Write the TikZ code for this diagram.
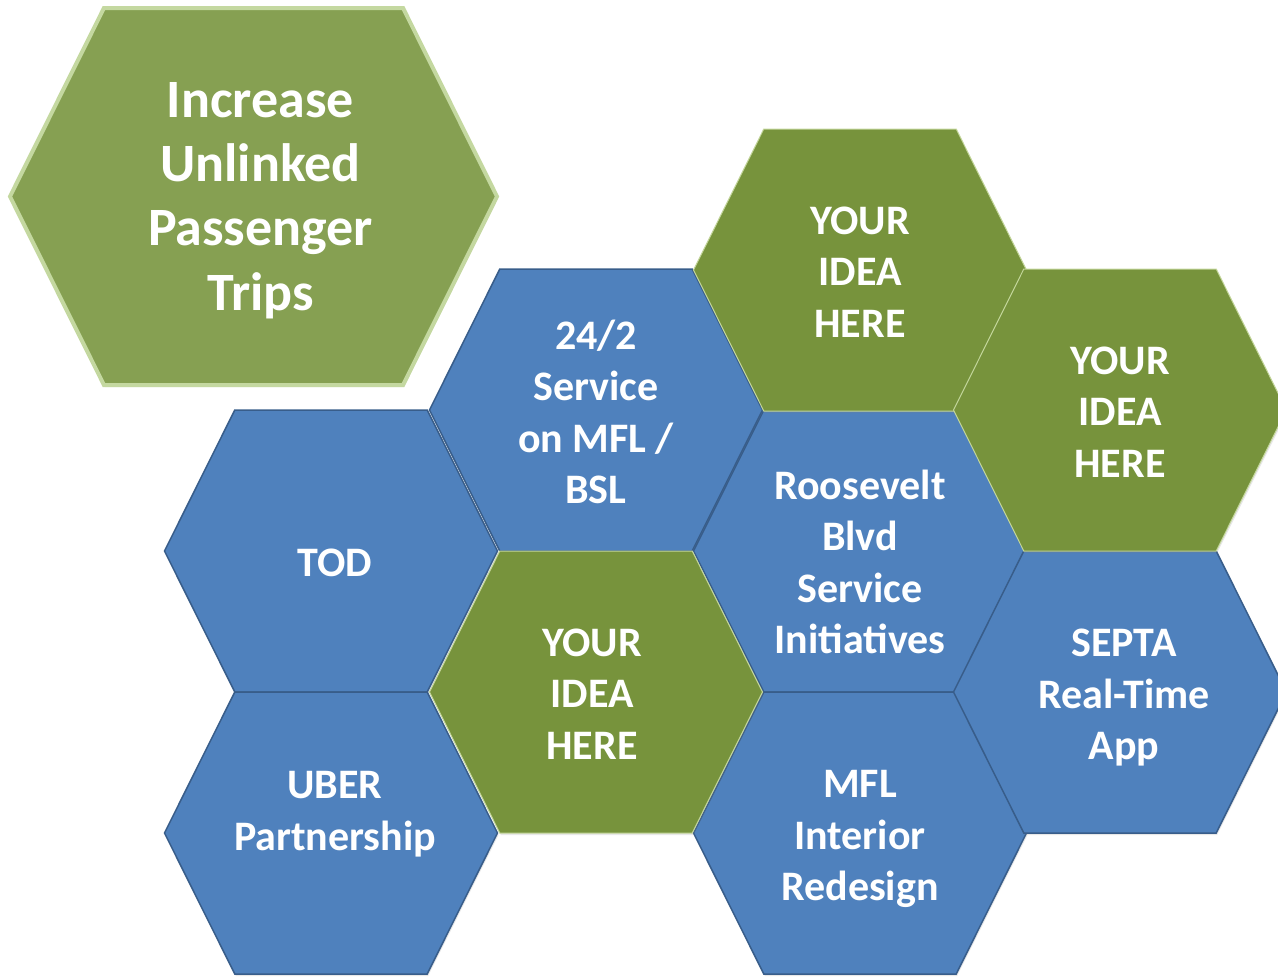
\documentclass[tikz,border=0pt]{standalone}
\usepackage{fontspec}
\setmainfont{Carlito}
\usetikzlibrary{shapes.symbols,shadows}
\definecolor{CellBlue}{HTML}{4F81BD}
\definecolor{CellBlueLine}{HTML}{385D8A}
\definecolor{CellGreen}{HTML}{77933C}
\definecolor{CellGreenLine}{HTML}{C3D69B}
\definecolor{GoalGreen}{HTML}{86A052}
\definecolor{GoalLine}{HTML}{C4D8A0}
\tikzset{
  hexcell/.style={signal,signal to=east and west,signal pointer angle=127,minimum width=333pt,minimum height=282pt,inner sep=0pt,line width=1.5pt,drop shadow={shadow xshift=1pt,shadow yshift=-2pt,opacity=0.18}},
  bluecell/.style={hexcell,draw=CellBlueLine,fill=CellBlue},
  greencell/.style={hexcell,draw=CellGreenLine,fill=CellGreen,line width=1pt},
  goalcell/.style={hexcell,draw=GoalLine,fill=GoalGreen,line width=4pt,minimum width=487pt,minimum height=377pt},
  celltext/.style={align=center,text=white,font=\fontsize{42}{51.5}\selectfont\bfseries},
  goaltext/.style={celltext,font=\fontsize{54}{64.3}\selectfont\bfseries}
}

\begin{document}
\begin{tikzpicture}[x=1pt,y=-1pt]
  \useasboundingbox (0,0) rectangle (1278,977);
  % goal hexagon
  \node[goalcell,label={[goaltext,xshift=7pt,yshift=-4pt]center:Increase\\Unlinked\\Passenger\\Trips}] (goal) at (253.5,196.5) {};
  % blue cells
  \node[bluecell,label={[celltext,xshift=4pt,yshift=-12pt]center:TOD}] (tod) at (331,551) {};
  \node[bluecell,label={[celltext,xshift=4pt,yshift=19pt]center:UBER\\Partnership}] (uber) at (331,833) {};
  \node[bluecell,label={[celltext,yshift=-2pt]center:24/2\\Service\\on MFL /\\BSL}] (night) at (596,410) {};
  \node[bluecell,label={[celltext,yshift=-11pt]center:Roosevelt\\Blvd\\Service\\Initiatives}] (blvd) at (860,551) {};
  \node[bluecell,label={[celltext,yshift=-6pt]center:MFL\\Interior\\Redesign}] (mfl) at (860,833) {};
  \node[bluecell,label={[celltext,xshift=4pt,yshift=-6pt]center:SEPTA\\Real-Time\\App}] (septa) at (1120,692) {};
  % open idea cells
  \node[greencell,label={[celltext,xshift=-4pt,yshift=-2pt]center:YOUR\\IDEA\\HERE}] (idea1) at (596,692) {};
  \node[greencell,label={[celltext,yshift=-2pt]center:YOUR\\IDEA\\HERE}] (idea2) at (860,270) {};
  \node[greencell,label={[celltext,yshift=-2pt]center:YOUR\\IDEA\\HERE}] (idea3) at (1120,410) {};
\end{tikzpicture}
\end{document}
